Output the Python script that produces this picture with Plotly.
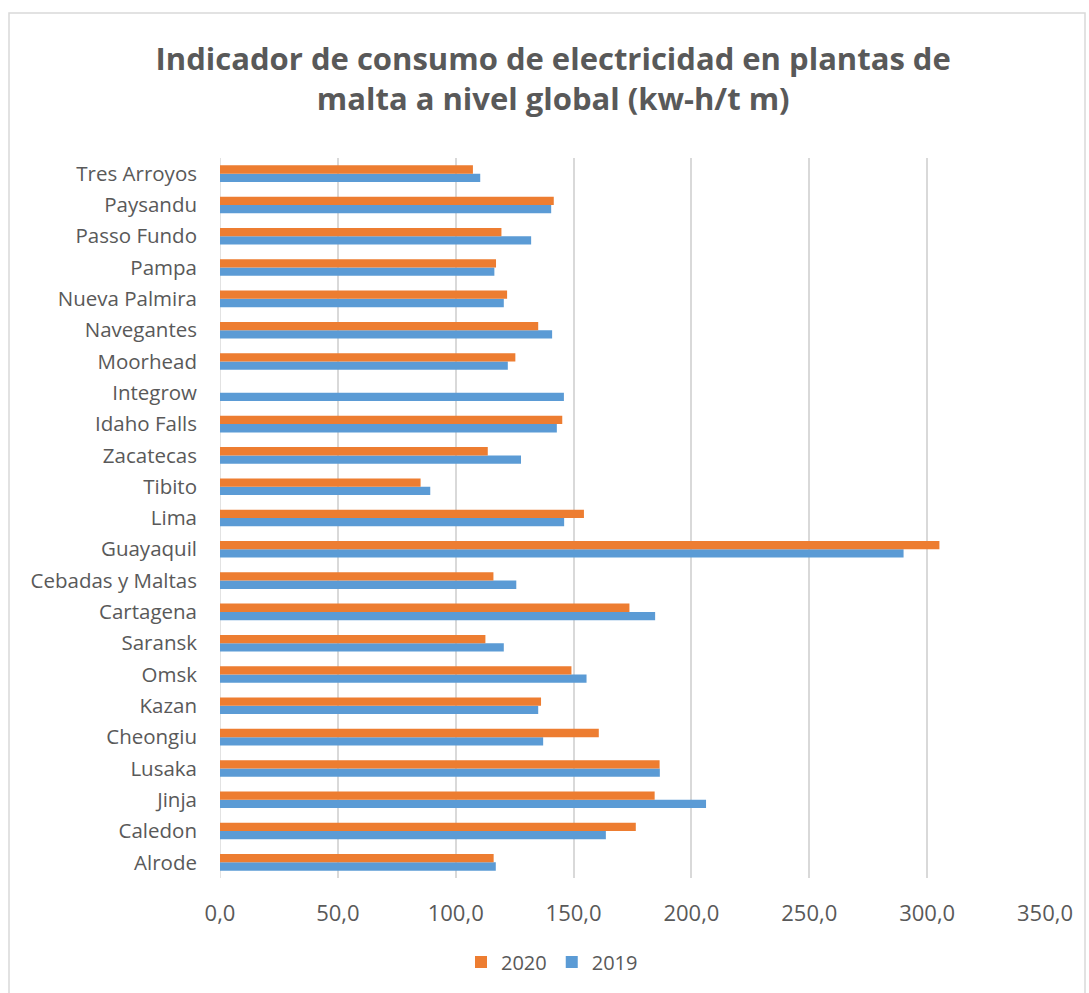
import plotly.graph_objects as go

# Plants, listed bottom to top
plantas = [
    "Alrode", "Caledon", "Jinja", "Lusaka", "Cheongiu", "Kazan", "Omsk",
    "Saransk", "Cartagena", "Cebadas y Maltas", "Guayaquil", "Lima",
    "Tibito", "Zacatecas", "Idaho Falls", "Integrow", "Moorhead",
    "Navegantes", "Nueva Palmira", "Pampa", "Passo Fundo", "Paysandu",
    "Tres Arroyos",
]

# kWh per tonne of malt
consumo_2019 = [
    117.0, 163.7, 206.2, 186.6, 137.1, 135.0, 155.5,
    120.4, 184.6, 125.7, 290.0, 146.0,
    89.2, 127.7, 142.9, 145.9, 122.1,
    140.9, 120.4, 116.4, 132.0, 140.5,
    110.4,
]
consumo_2020 = [
    116.1, 176.4, 184.4, 186.5, 160.7, 136.2, 149.1,
    112.6, 173.7, 116.0, 305.2, 154.4,
    85.1, 113.6, 145.2, None, 125.3,
    135.0, 121.8, 117.1, 119.4, 141.6,
    107.3,
]

serie_2019 = "2019"
serie_2020 = "2020"

TEXT = "#595959"
GRID = "#D9D9D9"
FONT = "Open Sans, Carlito, Calibri, sans-serif"

fig = go.Figure()
fig.add_trace(go.Bar(
    y=plantas, x=consumo_2019, name=serie_2019, orientation="h",
    marker=dict(color="#5B9BD5", line=dict(width=0)),
))
fig.add_trace(go.Bar(
    y=plantas, x=consumo_2020, name=serie_2020, orientation="h",
    marker=dict(color="#ED7D31", line=dict(width=0)),
))

W, H = 1089, 993
L, R, T, B = 220, 44, 158, 115

fig.update_layout(
    width=W, height=H,
    margin=dict(l=L, r=R, t=T, b=B, pad=0),
    paper_bgcolor="white", plot_bgcolor="white",
    barmode="group", bargap=0.47, bargroupgap=0,
    separators=",.",
    font=dict(family=FONT, color=TEXT, size=20),
    title=dict(
        text="Indicador de consumo de electricidad en plantas de<br>malta a nivel global (kw-h/t m)",
        font=dict(family=FONT, size=31, color=TEXT, weight="bold"),
        x=0.508, xref="container", xanchor="center",
        y=1 - 70 / H, yref="container", yanchor="middle",
    ),
    xaxis=dict(
        range=[0, 350], dtick=50, tickformat=".1f",
        showgrid=True, gridcolor=GRID, gridwidth=1.5,
        zeroline=False, showline=False,
        ticks="", ticklabelstandoff=20,
        tickfont=dict(size=22, color=TEXT),
    ),
    yaxis=dict(
        showgrid=False, zeroline=False, showline=False,
        ticks="", ticklabelstandoff=22,
        tickfont=dict(size=20.5, color=TEXT),
    ),
    legend=dict(
        orientation="h", traceorder="reversed",
        x=(552 - L) / (W - L - R), xanchor="center",
        y=(H - B - 962) / (H - T - B), yanchor="middle",
        font=dict(size=20, color=TEXT),
        itemwidth=30,
    ),
    shapes=[
        dict(
            type="rect", xref="paper", yref="paper",
            x0=(9 - L) / (W - L - R), x1=(1085 - L) / (W - L - R),
            y0=(H - B - 1000) / (H - T - B), y1=(H - B - 13) / (H - T - B),
            line=dict(color=GRID, width=1.5), fillcolor="rgba(0,0,0,0)",
            layer="below",
        ),
        dict(
            type="line", xref="x", yref="paper",
            x0=0, x1=0, y0=0, y1=1,
            line=dict(color=GRID, width=1.5), layer="below",
        ),
    ],
)

fig.write_html("out.html")
